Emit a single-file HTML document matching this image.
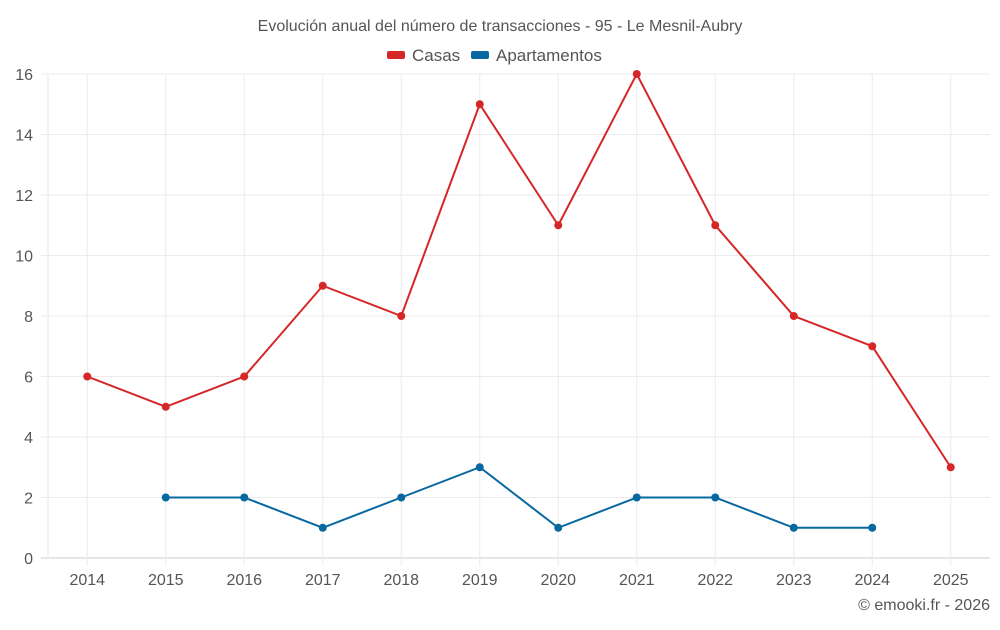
<!DOCTYPE html>
<html><head><meta charset="utf-8"><style>
body{margin:0;background:#fff;font-family:"Liberation Sans",sans-serif}
svg text{font-family:"Liberation Sans",sans-serif;fill:#555}
</style></head><body>
<svg id="c" width="1000" height="625">
<text x="500" y="31" text-anchor="middle" font-size="16">Evolución anual del número de transacciones - 95 - Le Mesnil-Aubry</text>
<g>
<g><rect x="387" y="51" width="18" height="8" rx="2" fill="#d62728"/><text x="412" y="61" font-size="17">Casas</text></g>
<g><rect x="471" y="51" width="18" height="8" rx="2" fill="#0868a0"/><text x="496" y="61" font-size="17">Apartamentos</text></g>
</g>
<g id="grid"></g><g id="axes"></g><g id="series"></g>
<text x="990" y="610" text-anchor="end" font-size="16">© emooki.fr - 2026</text>
</svg>
<script>
const years=["2014","2015","2016","2017","2018","2019","2020","2021","2022","2023","2024","2025"];
const casas=[6,5,6,9,8,15,11,16,11,8,7,3];
const apartamentos=[null,2,2,1,2,3,1,2,2,1,1,null];
const yTicks=[0,2,4,6,8,10,12,14,16];
const NS="http://www.w3.org/2000/svg";
const L=48,R=990,T=74,B=558,yMax=16;
const bw=(R-L)/years.length;
const X=i=>L+bw*(i+0.5);
const Y=v=>B-(v/yMax)*(B-T);
function mk(t,a,p){const e=document.createElementNS(NS,t);for(const k in a)e.setAttribute(k,a[k]);p.appendChild(e);return e;}
const g=document.getElementById('grid'),ax=document.getElementById('axes'),s=document.getElementById('series');
yTicks.forEach(v=>{
 const l=mk('line',{x1:41,x2:R,y1:Y(v),y2:Y(v),stroke:v===0?'#ccc':'#ebebeb'},g);
 
 
 const t=mk('text',{x:33,y:Y(v)+6,'text-anchor':'end','font-size':16},ax);t.textContent=v;
 
 
});
const yl=mk('line',{x1:L,x2:L,y1:T,y2:B,stroke:'#e6e6e6'},g);


years.forEach((y,i)=>{
 const l=mk('line',{x1:X(i),x2:X(i),y1:T,y2:566,stroke:'#ebebeb'},g);
 
 
 const t=mk('text',{x:X(i),y:585,'text-anchor':'middle','font-size':16},ax);t.textContent=y;
 
 
});
function draw(arr,col,name){
 let d='';arr.forEach((v,i)=>{if(v==null)return;d+=(d?'L':'M')+X(i)+','+Y(v);});
 const p=mk('path',{d:d,fill:'none',stroke:col,'stroke-width':2},s);
 
 
 arr.forEach((v,i)=>{if(v==null)return;
  const c=mk('circle',{cx:X(i),cy:Y(v),r:4,fill:col},s);
  
  
 });
}
draw(casas,'#d62728','casas');
draw(apartamentos,'#0868a0','apartamentos');
</script>
</body></html>
